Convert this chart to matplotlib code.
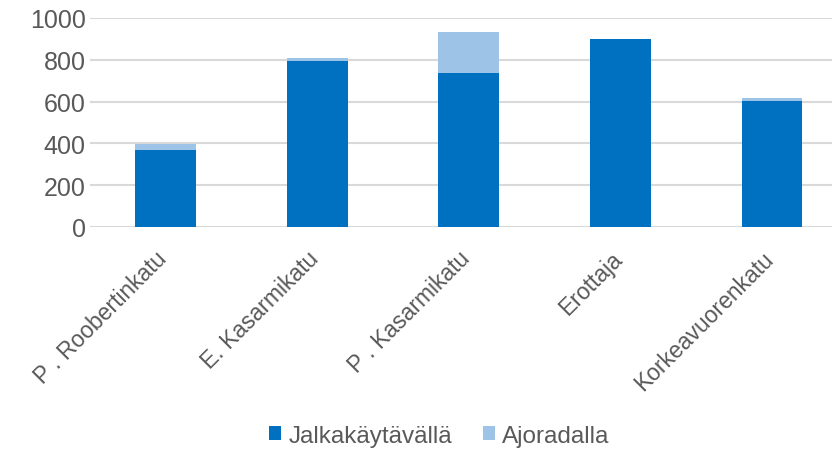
import matplotlib.pyplot as plt
import matplotlib.transforms as mtransforms
import numpy as np

plt.rcParams['font.family'] = ['Liberation Sans', 'DejaVu Sans']

# Data
streets = ['P . Roobertinkatu', 'E. Kasarmikatu', 'P . Kasarmikatu', 'Erottaja', 'Korkeavuorenkatu']
sidewalk = [369, 795, 738, 898, 604]   # Jalkakäytävällä
roadway = [29, 13, 196, 2, 14]         # Ajoradalla

dark_blue = '#0070C0'
light_blue = '#9DC3E6'
text_grey = '#595959'

fig = plt.figure(figsize=(8.32, 4.52), dpi=100)
ax = fig.add_axes([0.108, 1 - 228 / 452, 1 - 0.108, (228 - 19) / 452])

x = np.arange(len(streets))
ax.bar(x, sidewalk, width=0.40, color=dark_blue, label='Jalkakäytävällä', zorder=3)
ax.bar(x, roadway, width=0.40, bottom=sidewalk, color=light_blue, label='Ajoradalla', zorder=3)

ax.set_ylim(0, 1000)
ax.set_xlim(-0.5, 4.396)
ax.set_yticks(range(0, 1001, 200))
ax.yaxis.grid(True, color='#d9d9d9', linewidth=1.5, zorder=0)
ax.set_axisbelow(True)
for s in ax.spines.values():
    s.set_visible(False)
ax.tick_params(axis='y', length=0, labelsize=18, colors=text_grey, pad=3)

ax.set_xticks(x)
ax.set_xticklabels(streets, rotation=45, ha='right', va='center', rotation_mode='anchor')
ax.tick_params(axis='x', length=0, labelsize=16.5, colors=text_grey, pad=20)
shift = mtransforms.ScaledTranslation(-2 / 100, 0, fig.dpi_scale_trans)
for lbl in ax.get_xticklabels():
    lbl.set_transform(lbl.get_transform() + shift)

fig.legend(loc='center', bbox_to_anchor=(0.528, 1 - 437 / 452), ncol=2, frameon=False,
           fontsize=17.5, labelcolor=text_grey, handlelength=0.5, handleheight=0.5,
           handletextpad=0.3, columnspacing=1.25)

fig.savefig('out.png', dpi=100)
